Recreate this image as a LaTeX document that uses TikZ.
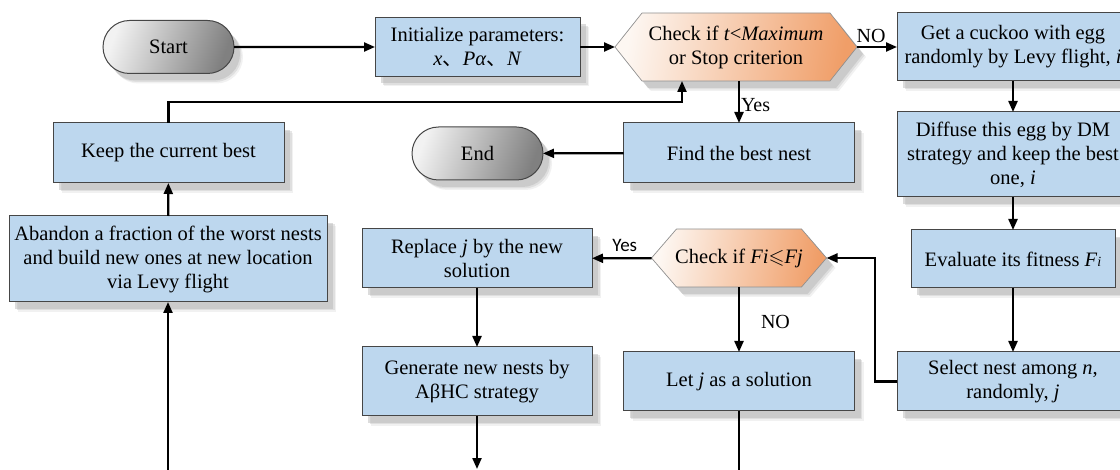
\documentclass[tikz,border=0pt]{standalone}
\usepackage{amssymb}
\usepackage{fontspec}
\setmainfont{Liberation Serif}
\newfontfamily\calib{Carlito}
\newfontfamily\cjk{Noto Sans CJK SC}
\usetikzlibrary{arrows.meta,shapes.misc,shadows,calc}

\definecolor{boxblue}{RGB}{189,215,238}
\definecolor{boxedge}{RGB}{70,70,70}
\definecolor{hexorange}{RGB}{240,158,104}
\definecolor{hexmid}{RGB}{248,208,180}
\definecolor{hexlight}{RGB}{253,247,242}
\definecolor{pilllight}{RGB}{242,242,242}
\definecolor{pillmid}{RGB}{222,222,222}
\definecolor{pilldark}{RGB}{128,128,128}
\definecolor{shadowA}{RGB}{228,228,228}
\definecolor{shadowB}{RGB}{205,205,205}
\definecolor{shadowC}{RGB}{185,185,185}

\newcommand\drawhexagon[5]{% cx cy halfwidth halfheight tip
  \path[hexfill] ({#1-#3},#2) -- ({#1-#3+#5},{#2-#4}) -- ({#1+#3-#5},{#2-#4})
    -- ({#1+#3},#2) -- ({#1+#3-#5},{#2+#4}) -- ({#1-#3+#5},{#2+#4}) -- cycle;}

\begin{document}
\begin{tikzpicture}[x=1pt,y=-1pt,
  every node/.style={font=\fontsize{20.5}{24}\selectfont, inner sep=0pt, outer sep=0pt, align=center},
  myshadow/.style={
    drop shadow={shadow xshift=9pt, shadow yshift=-10pt, fill=shadowA, draw=none},
    drop shadow={shadow xshift=7.5pt, shadow yshift=-8.5pt, fill=shadowB, draw=none},
    drop shadow={shadow xshift=6pt, shadow yshift=-7pt, fill=shadowC, draw=none}},
  procbox/.style={rectangle, draw=boxedge, line width=1pt, fill=boxblue, myshadow},
  pill/.style={rounded rectangle, draw=boxedge, line width=1pt, minimum width=131pt, minimum height=53pt,
    left color=pilllight, middle color=pillmid, right color=pilldark, shading angle=70, myshadow},
  hexfill/.style={draw=boxedge!60, line width=0.7pt, left color=hexlight, middle color=hexmid, right color=hexorange, shading angle=80, myshadow},
  hexnode/.style={rectangle, draw=none},
  conn/.style={line width=2.2pt, -{Triangle[length=11pt,width=9pt]}},
  plain/.style={line width=2.2pt},
  lbl/.style={font=\fontsize{20}{24}\selectfont},
  slbl/.style={font=\calib\fontsize{19}{24}\selectfont}
]
\useasboundingbox (0,0) rectangle (1120,470);
\clip (0,0) rectangle (1120,470);

% nodes
\node[pill] (start) at (168.5,47) {Start};
\node[procbox, minimum width=205pt, minimum height=59pt] (init) at (477.5,47)
  {Initialize parameters:\\ \textit{x}{\cjk 、}\textit{Pα}{\cjk 、}\textit{N}};
\drawhexagon{736}{47}{121}{34}{27}
\node[hexnode, minimum width=242pt, minimum height=68pt] (chk1) at (736,47)
  {Check if \textit{t}<\textit{Maximum}\\or Stop criterion};
\node[procbox, minimum width=232pt, minimum height=68pt] (getc) at (1013,47)
  {Get a cuckoo with egg\\randomly by Levy flight, \textit{i}};

\node[procbox, minimum width=231pt, minimum height=60pt] (keep) at (168.5,153) {Keep the current best};
\node[pill] (end) at (477.5,153.5) {End};
\node[procbox, minimum width=231pt, minimum height=60pt] (find) at (739,153) {Find the best nest};
\node[procbox, minimum width=232pt, minimum height=85pt] (diff) at (1013,154.5)
  {Diffuse this egg by DM\\strategy and keep the best\\one, \textit{i}};

\node[procbox, minimum width=318pt, minimum height=86pt] (aband) at (168,259)
  {Abandon a fraction of the worst nests\\and build new ones at new location\\via Levy flight};
\node[procbox, minimum width=230pt, minimum height=59pt] (repl) at (477,258.5)
  {Replace \textit{j} by the new\\solution};
\drawhexagon{739}{258}{87.5}{29}{25}
\node[hexnode, minimum width=175pt, minimum height=58pt] (chk2) at (739,258)
  {Check if \textit{Fi}$\leqslant$\textit{Fj}};
\node[procbox, minimum width=204pt, minimum height=58pt] (eval) at (1013,259)
  {Evaluate its fitness \textit{F}{\fontsize{14}{14}\selectfont\textit{i}}};

\node[procbox, minimum width=230pt, minimum height=69pt] (gen) at (477,381.5)
  {Generate new nests by\\AβHC strategy};
\node[procbox, minimum width=231pt, minimum height=59pt] (letj) at (739,381.5)
  {Let \textit{j} as a solution};
\node[procbox, minimum width=232pt, minimum height=59pt] (sel) at (1013,381.5)
  {Select nest among \textit{n},\\randomly, \textit{j}};

% free ends
\coordinate (ret) at (682,102);
\coordinate (genout) at (477,469);
\coordinate (letout) at (739,472);
\coordinate (abin) at (168,472);
\coordinate (selturn) at (875,381.5);

% connectors
\draw[conn] (start) -- (init);
\draw[conn] (init) -- (chk1);
\draw[conn] (chk1) -- (getc) node[lbl, midway, above=4pt, xshift=-6pt] {NO};
\draw[conn] (getc) -- (diff);
\draw[conn] (diff) -- (eval);
\draw[conn] (eval) -- (sel);
\draw[conn] (sel.west) -- (selturn) |- (chk2.east);
\draw[conn] (chk2) -- (repl) node[slbl, midway, above=7pt, xshift=3pt] {Yes};
\draw[conn] (chk2) -- (letj) node[lbl, midway, right=22pt, yshift=-2pt] {NO};
\draw[conn] (repl) -- (gen);
\draw[conn] (gen) -- (genout);
\draw[plain] (letj) -- (letout);
\draw[conn] (abin) -- (aband);
\draw[conn] (aband) -- (keep);
\draw[conn] (keep.north) -- (keep.north |- ret) -- (ret) -- (ret |- chk1.south);
\draw[conn] (chk1.south -| find.north) -- (find.north) node[lbl, midway, right=2pt, yshift=-3pt] {Yes};
\draw[conn] (find) -- (end);
\end{tikzpicture}
\end{document}
